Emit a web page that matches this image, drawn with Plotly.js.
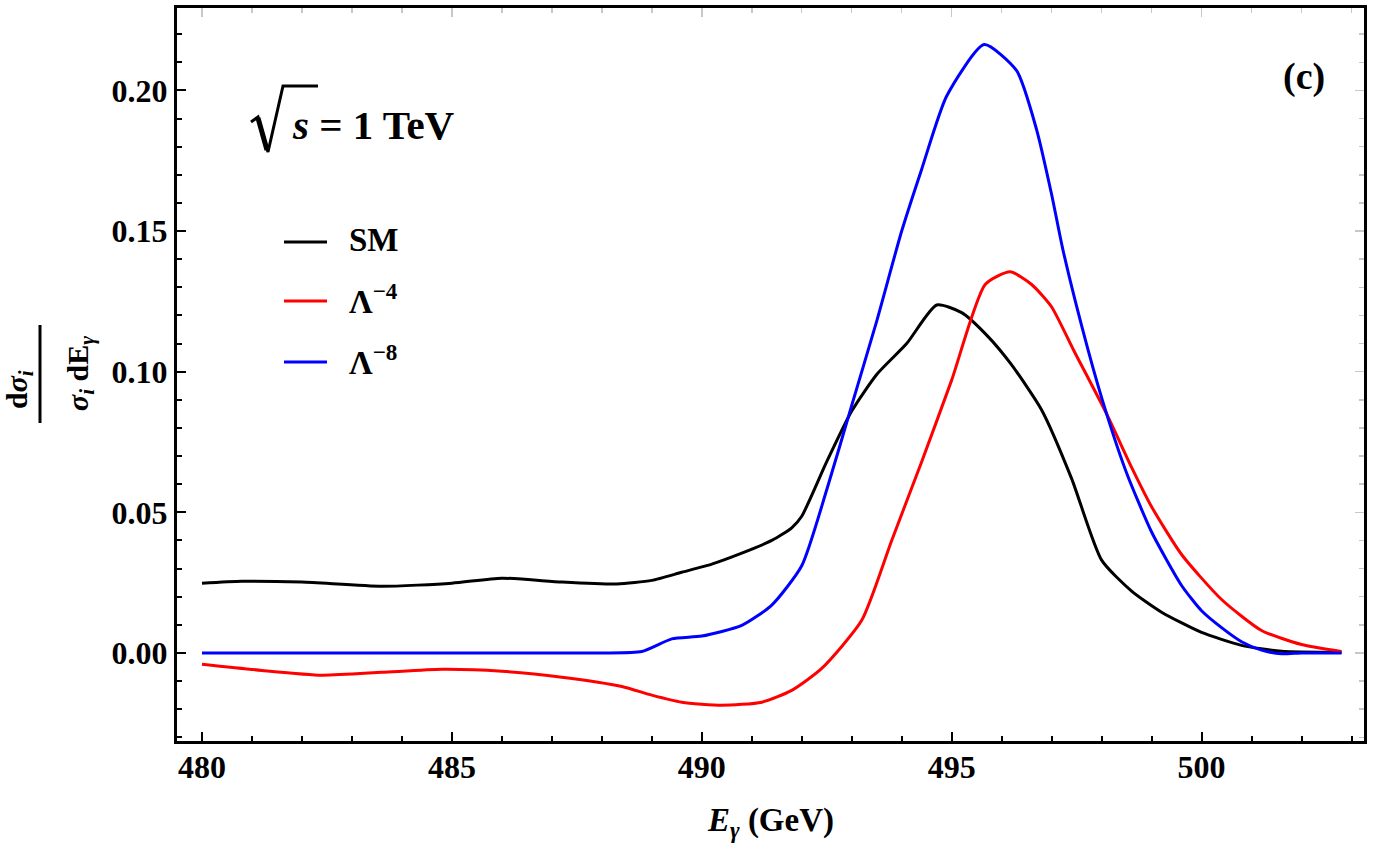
<!DOCTYPE html>
<html><head><meta charset="utf-8">
<script src="https://cdn.plot.ly/plotly-3.0.1.min.js"></script>
<style>body{margin:0;background:#fff}#plot{width:1375px;height:848px}</style>
</head><body><div id="plot"></div>
<script>
// ---- data ----
const smE = [480,480.8,482,483.6,485,486,487.2,488.3,489,489.6,490.2,490.8,491.4,491.8,492,492.5,493,493.5,494.1,494.7,495.2,495.7,496.2,496.8,497.4,498,498.6,499.2,500,500.8,501.6,502.8];
const smV = [0.0248,0.0255,0.0252,0.0237,0.0248,0.0266,0.0252,0.0245,0.0258,0.0287,0.0316,0.0355,0.040,0.0445,0.0486,0.068,0.086,0.099,0.110,0.1237,0.121,0.113,0.1024,0.0864,0.062,0.033,0.022,0.0145,0.0073,0.0027,0.0006,0.0002];
const l4E = [480,481.2,482.4,483.6,484.8,486,487.2,488.4,489,489.6,490.4,491.2,491.8,492.4,493.2,493.8,494.4,495,495.67,496.17,496.6,497,497.43,498.1,498.6,499,499.6,500.4,501.2,502,502.8];
const l4V = [-0.004,-0.0062,-0.0079,-0.0069,-0.0058,-0.0065,-0.0086,-0.0119,-0.015,-0.0175,-0.0186,-0.0175,-0.0133,-0.0055,0.0116,0.040,0.068,0.097,0.131,0.1355,0.131,0.123,0.108,0.085,0.066,0.052,0.035,0.019,0.008,0.003,0.0005];
const l8E = [480,482,484,486,488,488.8,489.4,490,490.8,491.4,492,492.5,493,493.5,494,494.4,494.9,495.65,496.3,496.7,497,497.23,497.73,498.1,498.5,499,499.6,500,500.4,500.8,501.2,501.6,502,502.8];
const l8V = [0,0,0,0,0,0.0005,0.005,0.006,0.0098,0.017,0.031,0.058,0.088,0.118,0.150,0.172,0.198,0.2163,0.207,0.186,0.163,0.143,0.1077,0.085,0.064,0.043,0.024,0.015,0.009,0.004,0.001,-0.0003,0,0];
const seriesNames = ['SM','Λ<sup>−4</sup>','Λ<sup>−8</sup>'];
const seriesColors = ['#000000','#ff0000','#0000ff'];
const xTickVals = [480,485,490,495,500];
const yTickVals = [0,0.05,0.10,0.15,0.20];

// ---- geometry ----
const W=1375,H=848, L=177, R=11, T=8, B=107;
const pw=W-L-R, ph=H-T-B;
const px=x=>(x-L)/pw, py=y=>(H-B-y)/ph;
const FONT='Liberation Serif, Times New Roman, serif';

function tr(x,y,c,name){return {x:x,y:y,type:'scatter',mode:'lines',name:name,
  line:{color:c,width:3,shape:'spline',smoothing:0.6},hoverinfo:'skip',showlegend:false};}
const data=[tr(smE,smV,seriesColors[0],'SM'),tr(l4E,l4V,seriesColors[1],'L4'),tr(l8E,l8V,seriesColors[2],'L8'),
  {x:smE,y:smV,xaxis:'x2',yaxis:'y2',type:'scatter',mode:'lines',line:{width:0},opacity:0,hoverinfo:'skip',showlegend:false}];

const xr=[479.5,503.25], yr=[-0.0313,0.2293];
const tickfont={family:FONT,size:32,color:'#000',weight:700};
const layout={
  width:W,height:H,margin:{l:L,r:R,t:T,b:B},paper_bgcolor:'#fff',plot_bgcolor:'#fff',
  xaxis:{range:xr,showgrid:false,zeroline:false,showline:true,linewidth:3,linecolor:'#000',mirror:true,
    tickvals:xTickVals,ticktext:xTickVals.map(String),ticks:'inside',ticklen:9,tickwidth:2,tickcolor:'#000',
    ticklabelstandoff:-4,
    tickfont:tickfont,minor:{dtick:1,tick0:480,ticks:'inside',ticklen:5,tickwidth:2,tickcolor:'#000'}},
  yaxis:{range:yr,showgrid:false,zeroline:false,showline:true,linewidth:3,linecolor:'#000',mirror:true,
    tickvals:yTickVals,ticktext:yTickVals.map(v=>v.toFixed(2)),ticks:'inside',ticklen:9,tickwidth:2,tickcolor:'#000',
    tickfont:tickfont,minor:{dtick:0.01,tick0:0,ticks:'inside',ticklen:5,tickwidth:2,tickcolor:'#000'}},
  xaxis2:{range:xr,overlaying:'x',side:'top',showgrid:false,zeroline:false,showline:false,showticklabels:false,
    tickvals:xTickVals,ticks:'inside',ticklen:9,tickwidth:1.5,tickcolor:'#c8c8c8',
    minor:{dtick:1,tick0:480,ticks:'inside',ticklen:5,tickwidth:1.5,tickcolor:'#c8c8c8'}},
  yaxis2:{range:yr,overlaying:'y',side:'right',showgrid:false,zeroline:false,showline:false,showticklabels:false,
    tickvals:yTickVals,ticks:'inside',ticklen:9,tickwidth:1.5,tickcolor:'#c8c8c8',
    minor:{dtick:0.01,tick0:0,ticks:'inside',ticklen:5,tickwidth:1.5,tickcolor:'#c8c8c8'}},
  showlegend:false,
  shapes:[
    // fraction bar of y title
    {type:'line',xref:'paper',yref:'paper',x0:px(40),x1:px(40),y0:py(325),y1:py(423),line:{color:'#000',width:3}},
  ],
  annotations:[]
};
// radical sign drawn as a path
function P(pts){return pts.map((p,i)=>(i?'L':'M')+px(p[0]).toFixed(5)+','+py(p[1]).toFixed(5)).join(' ');}
layout.shapes.push({type:'path',xref:'paper',yref:'paper',path:P([[251,122],[258,117],[268,152],[283,86],[318,86]]),line:{color:'#000',width:3}});
layout.shapes.push({type:'path',xref:'paper',yref:'paper',path:P([[258,118],[267,150]]),line:{color:'#000',width:5}});

const A=layout.annotations;
function ann(text,x,y,size,opts){A.push(Object.assign({text:text,xref:'paper',yref:'paper',x:px(x),y:py(y),
  showarrow:false,font:{family:FONT,size:size,color:'#000',weight:700},xanchor:'center',yanchor:'middle'},opts||{}));}
// x title
ann('<i>E</i><sub><i>γ</i></sub> (GeV)',771,823,33);
// y title fraction
ann('d<i>σ</i><sub><i>i</i></sub>',19,390,30,{textangle:-90});
ann('<i>σ</i><sub><i>i</i></sub> dE<sub><i>γ</i></sub>',80,374,30,{textangle:-90});
// sqrt(s) = 1 TeV
ann('<i>s</i> = 1 TeV',290,125,41,{xanchor:'left'});
// panel label
ann('(c)',1304,77,38);
// legend
const legY=[242,301,362];
for(let i=0;i<3;i++){
  layout.shapes.push({type:'line',xref:'paper',yref:'paper',x0:px(284),x1:px(327),y0:py(legY[i]),y1:py(legY[i]),line:{color:seriesColors[i],width:3}});
  ann(seriesNames[i],347,legY[i]-2,33,{xanchor:'left'});
}
Plotly.newPlot('plot',data,layout,{displayModeBar:false,staticPlot:true});
</script></body></html>
